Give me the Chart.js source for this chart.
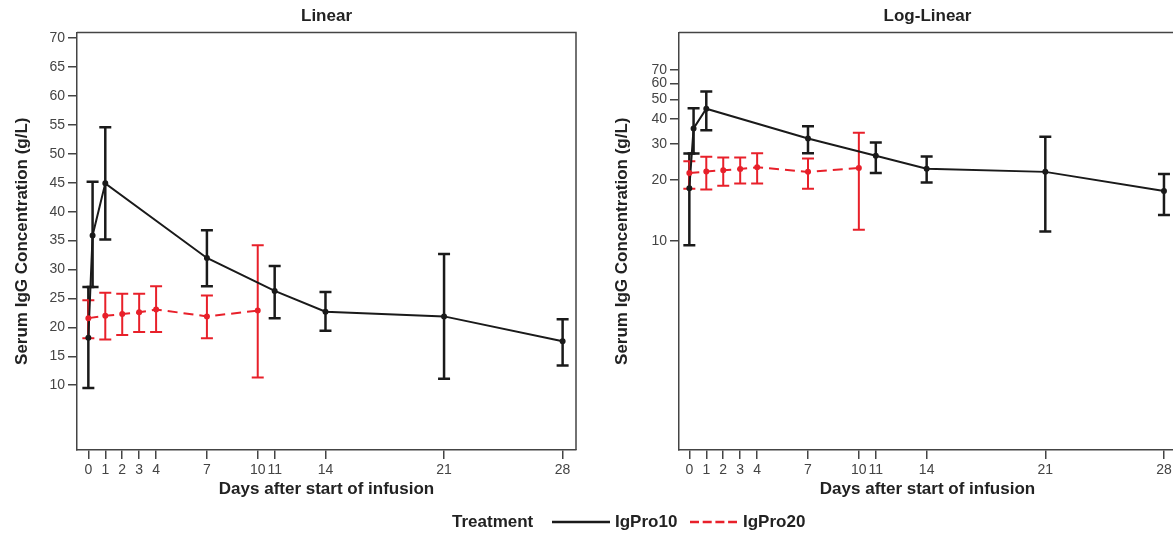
<!DOCTYPE html>
<html>
<head>
<meta charset="utf-8">
<script src="https://cdn.jsdelivr.net/npm/chart.js@4"></script>
<style>
  html, body { margin: 0; padding: 0; background: #fff; overflow: hidden; width: 1173px; height: 535px; }
  body { position: relative; font-family: "Liberation Sans", Arial, sans-serif; }
  canvas { position: absolute; top: 0; }
  #legend { position: absolute; top: 0; left: 0; width: 1173px; height: 535px; pointer-events: none; }
  #legend span { position: absolute; top: 511px; font-weight: bold; font-size: 17px; color: #222; line-height: 22px; }
  #legend svg { position: absolute; top: 517px; }
</style>
</head>
<body>
<canvas id="linChart" width="600" height="505" style="left:0px"></canvas>
<canvas id="logChart" width="600" height="505" style="left:600px"></canvas>
<div id="legend">
  <span style="left:452px">Treatment</span>
  <svg style="left:552px" width="60" height="10"><line x1="0" y1="5" x2="58" y2="5" stroke="#1a1a1a" stroke-width="2.5"/></svg>
  <span style="left:615px">IgPro10</span>
  <svg style="left:690px" width="50" height="10"><line x1="0" y1="5" x2="47" y2="5" stroke="#e8202a" stroke-width="2.5" stroke-dasharray="9,3.7"/></svg>
  <span style="left:743px">IgPro20</span>
</div>
<script>
// IgPro10 (black, solid)
var days10 = [0, 0.25, 1, 7, 11, 14, 21, 28];
var mean10 = [18.2, 35.9, 44.9, 32.0, 26.3, 22.7, 21.9, 17.6];
var lo10 = [9.5, 27.0, 35.2, 27.1, 21.6, 19.4, 11.1, 13.4];
var hi10 = [27.0, 45.2, 54.6, 36.8, 30.6, 26.1, 32.7, 21.4];

// IgPro20 (red, dashed)
var days20 = [0, 1, 2, 3, 4, 7, 10];
var mean20 = [21.6, 22.0, 22.3, 22.6, 23.1, 21.9, 22.9];
var lo20 = [18.1, 17.9, 18.7, 19.2, 19.2, 18.1, 11.35];
var hi20 = [24.7, 26.0, 25.8, 25.8, 27.1, 25.5, 34.2];

// axis ticks
var xTicks = [0, 1, 2, 3, 4, 7, 10, 11, 14, 21, 28];
var yTicksLin = [10, 15, 20, 25, 30, 35, 40, 45, 50, 55, 60, 65, 70];
var yTicksLog = [10, 20, 30, 40, 50, 60, 70];

Chart.defaults.font.family = '"Liberation Sans", Arial, sans-serif';
Chart.defaults.color = '#444';

var axisColor = '#444';

function points(xs, ys) {
  var out = [];
  for (var i = 0; i < xs.length; i++) out.push({ x: xs[i], y: ys[i] });
  return out;
}

// error bars + top/right frame
var errorBars = {
  id: 'errorBars',
  beforeDatasetsDraw: function (chart) {
    var ctx = chart.ctx;
    var xs = chart.scales.x;
    var ys = chart.scales.y;
    chart.data.datasets.forEach(function (ds) {
      ctx.save();
      ctx.strokeStyle = ds.borderColor;
      ctx.lineWidth = ds.errWidth;
      for (var i = 0; i < ds.errLo.length; i++) {
        var px = xs.getPixelForValue(ds.data[i].x);
        var y1 = ys.getPixelForValue(ds.errLo[i]);
        var y2 = ys.getPixelForValue(ds.errHi[i]);
        ctx.beginPath();
        ctx.moveTo(px, y1); ctx.lineTo(px, y2);
        ctx.moveTo(px - 6, y1); ctx.lineTo(px + 6, y1);
        ctx.moveTo(px - 6, y2); ctx.lineTo(px + 6, y2);
        ctx.stroke();
      }
      ctx.restore();
    });
  },
  afterDraw: function (chart) {
    var a = chart.chartArea;
    var ctx = chart.ctx;
    ctx.save();
    ctx.strokeStyle = axisColor;
    ctx.lineWidth = 1.5;
    ctx.beginPath();
    ctx.moveTo(a.left, a.top);
    ctx.lineTo(a.right, a.top);
    ctx.lineTo(a.right, a.bottom);
    ctx.stroke();
    ctx.restore();
  }
};

function makeChart(id, title, logScale, yWidth, xMin, xMax) {
  var yTicks = logScale ? yTicksLog : yTicksLin;
  return new Chart(document.getElementById(id), {
    type: 'scatter',
    data: {
      datasets: [
        {
          label: 'IgPro10',
          data: points(days10, mean10),
          errLo: lo10,
          errHi: hi10,
          errWidth: 2.5,
          showLine: true,
          borderColor: '#1a1a1a',
          backgroundColor: '#1a1a1a',
          borderWidth: 2,
          pointRadius: 2,
          order: 1
        },
        {
          label: 'IgPro20',
          data: points(days20, mean20),
          errLo: lo20,
          errHi: hi20,
          errWidth: 2,
          showLine: true,
          borderColor: '#e8202a',
          backgroundColor: '#e8202a',
          borderWidth: 2,
          borderDash: [10, 6],
          pointRadius: 2,
          order: 0
        }
      ]
    },
    options: {
      responsive: false,
      animation: false,
      layout: { padding: { left: 0, right: 24, top: 0, bottom: 0 } },
      plugins: {
        legend: { display: false },
        tooltip: { enabled: false },
        title: {
          display: true,
          text: title,
          fullSize: false,
          color: '#222',
          font: { size: 17, weight: 'bold' },
          padding: { top: 6, bottom: 6 }
        }
      },
      scales: {
        x: {
          type: 'linear',
          min: xMin,
          max: xMax,
          afterBuildTicks: function (scale) {
            scale.ticks = xTicks.map(function (v) { return { value: v }; });
          },
          afterFit: function (scale) { scale.height = 55; },
          ticks: {
            autoSkip: false,
            maxRotation: 0,
            padding: 3,
            font: { size: 14 },
            color: '#444',
            callback: function (v) { return String(v); }
          },
          grid: { drawOnChartArea: false, drawTicks: true, tickLength: 9, color: axisColor, lineWidth: 1.5 },
          border: { display: true, color: axisColor, width: 1.5 },
          title: {
            display: true,
            text: 'Days after start of infusion',
            color: '#222',
            font: { size: 17, weight: 'bold' },
            padding: { top: 5, bottom: 5 }
          }
        },
        y: {
          type: logScale ? 'logarithmic' : 'linear',
          min: logScale ? 0.926 : -1.2,
          max: logScale ? 107 : 71,
          afterBuildTicks: function (scale) {
            scale.ticks = yTicks.map(function (v) { return { value: v }; });
          },
          afterFit: function (scale) { scale.width = yWidth; },
          ticks: {
            autoSkip: false,
            padding: 3,
            font: { size: 14 },
            color: '#444',
            callback: function (v) { return String(v); }
          },
          grid: { drawOnChartArea: false, drawTicks: true, tickLength: 9, color: axisColor, lineWidth: 1.5 },
          border: { display: true, color: axisColor, width: 1.5 },
          title: {
            display: true,
            text: 'Serum IgG Concentration (g/L)',
            color: '#222',
            font: { size: 17, weight: 'bold' },
            padding: { top: 12, bottom: 4 }
          }
        }
      }
    },
    plugins: [errorBars]
  });
}

makeChart('linChart', 'Linear', false, 77, -0.67, 28.79);
makeChart('logChart', 'Log-Linear', true, 79, -0.61, 28.71);
</script>
</body>
</html>
